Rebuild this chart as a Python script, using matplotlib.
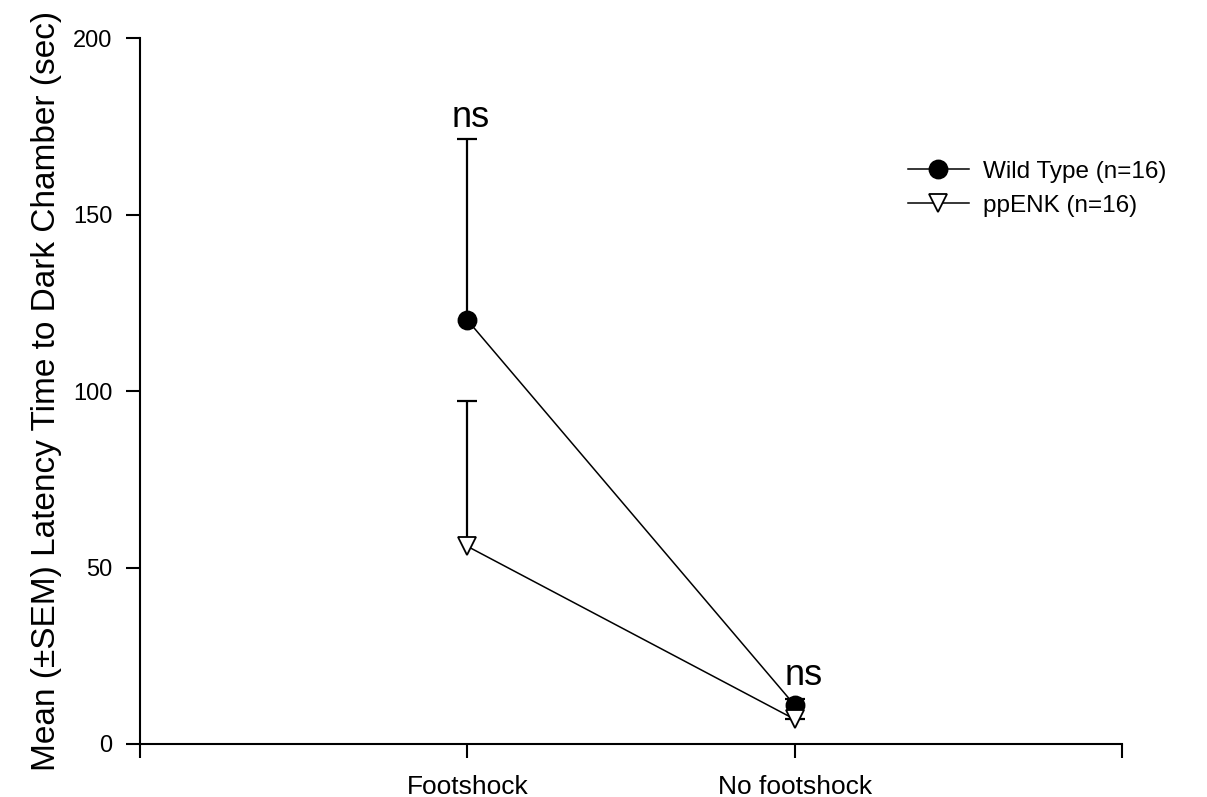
"""Passive avoidance latency: wild type vs ppENK mice."""
import matplotlib

matplotlib.use("Agg")
import matplotlib.pyplot as plt

plt.rcParams["font.family"] = ["Liberation Sans", "DejaVu Sans"]

conditions = ["Footshock", "No footshock"]
cond_x = [1, 2]
wt_mean = [120.1, 11.0]
wt_sem = [51.3, 1.8]
ppenk_mean = [56.0, 7.0]
ppenk_sem = [41.3, 0.0]
sig_labels = ["ns", "ns"]
sig_y = [174.8, 16.7]


def draw_group(ax, mean, sem, marker, face, label):
    ax.vlines(cond_x, mean, [m + s for m, s in zip(mean, sem)], color="black",
              lw=1.6, zorder=2)
    ax.plot(cond_x, [m + s for m, s in zip(mean, sem)], ls="none", marker="_",
            ms=15, mew=1.6, color="black", zorder=2)
    line, = ax.plot(cond_x, mean, color="black", lw=1.1, marker=marker, ms=13,
                    mfc=face, mec="black", mew=1.3, label=label, zorder=3)
    return line


fig = plt.figure(figsize=(12.07, 7.97), dpi=100)
ax = fig.add_axes([0.116, 0.0665, 0.8136, 0.8858])

h1 = draw_group(ax, wt_mean, wt_sem, "o", "black", "Wild Type (n=16)")
h2 = draw_group(ax, ppenk_mean, ppenk_sem, "v", "white", "ppENK (n=16)")

for i, (x, y, s) in enumerate(zip(cond_x, sig_y, sig_labels)):
    ax.text(x + 0.01 + 0.018 * i, y, s, ha="center", va="baseline", fontsize=26)

ax.set_xlim(0, 3)
ax.set_ylim(0, 200)
ax.set_xticks([0, 1, 2, 3])
ax.set_xticklabels([""] + conditions + [""], fontsize=19)
ax.set_yticks([0, 50, 100, 150, 200])
ax.tick_params(axis="y", labelsize=17, length=10, width=1.5, direction="out", pad=10)
ax.tick_params(axis="x", length=10, width=1.5, direction="out", pad=12)
ax.set_ylabel("Mean (±SEM) Latency Time to Dark Chamber (sec)", fontsize=24, labelpad=8)

for side in ("top", "right"):
    ax.spines[side].set_visible(False)
for side in ("left", "bottom"):
    ax.spines[side].set_linewidth(1.5)

ax.legend(handles=[h1, h2], loc="upper left", bbox_to_anchor=(0.772, 0.84),
          frameon=False, fontsize=17.5, handlelength=2.5, handletextpad=0.6,
          labelspacing=0.5, borderaxespad=0)

fig.savefig("out.png", dpi=100)
